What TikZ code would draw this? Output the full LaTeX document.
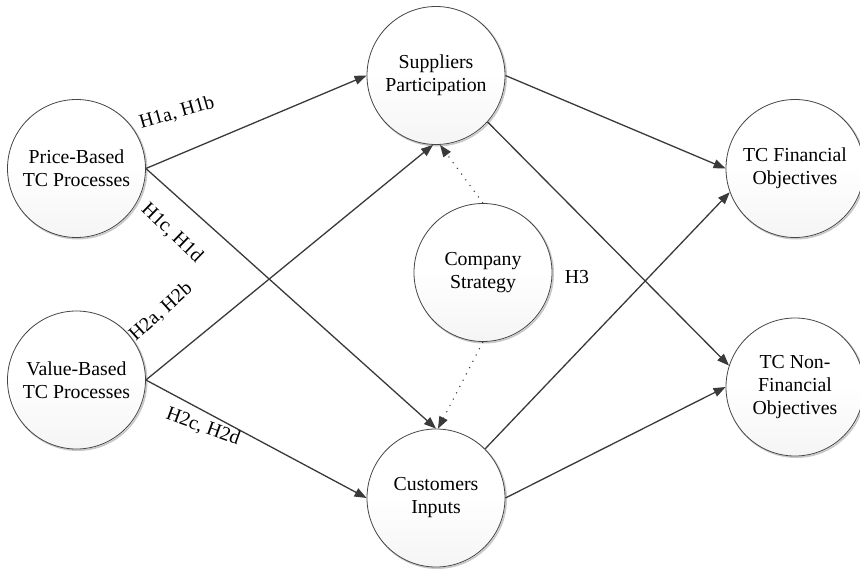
\documentclass[tikz,border=0pt]{standalone}
\usepackage{fontspec}
\setmainfont{Liberation Serif}
\usetikzlibrary{arrows.meta}
\definecolor{lineC}{HTML}{3A3A3A}
\definecolor{edgeC}{HTML}{454545}
\definecolor{shadowC}{HTML}{C8C8C8}
\tikzset{
  bubble/.style={circle, minimum size=138pt, inner sep=0pt, draw=edgeC, line width=0.8pt,
    fill=white, align=center,
    font=\fontsize{19.8}{23}\selectfont,
    path picture={
      \foreach \i in {10,...,19}{
        \pgfmathsetmacro\g{(\i-9)*0.4}
        \fill[black!\g] ([yshift=-\i*7pt]path picture bounding box.north west)
          rectangle ([yshift=-\i*7pt-7.6pt]path picture bounding box.north east);
      }
    },
    preaction={draw=shadowC, line width=1.6pt, transform canvas={shift={(1.2pt,-1.2pt)}}}},
  conn/.style={draw=lineC, line width=1.3pt, -{Triangle[length=12pt,width=9pt]}},
  dotconn/.style={draw=lineC, line width=1.1pt, dash pattern=on 1.1pt off 6pt,
    -{Triangle[length=12pt,width=9pt]}},
  hyp/.style={font=\fontsize{19.8}{23}\selectfont, inner sep=0pt}
}
\begin{document}
\begin{tikzpicture}[x=1pt,y=-1pt]
\useasboundingbox (0,0) rectangle (860,568);
\fill[white] (0,0) rectangle (860,568);
% circles
\node[bubble] (PB) at (76.5,168.5) {Price-Based\\TC Processes};
\node[bubble] (VB) at (76.5,380) {Value-Based\\TC Processes};
\node[bubble] (SP) at (436,75.5) {Suppliers\\Participation};
\node[bubble] (CS) at (483,272.5) {Company\\Strategy};
\node[bubble] (CI) at (436,498) {Customers\\Inputs};
\node[bubble] (TCF) at (795,168.5) {TC Financial\\Objectives};
\node[bubble] (TCN) at (795,387) {TC Non-\\Financial\\Objectives};
% connectors
\draw[conn] (PB.east) -- (SP.west);
\draw[conn] (PB.east) -- (CI.north);
\draw[conn] (VB.east) -- ([xshift=-3pt]SP.south);
\draw[conn] (VB.east) -- (CI.west);
\draw[dotconn] (CS.north) -- ([xshift=4pt]SP.south);
\draw[dotconn] (CS.south) -- ([xshift=2pt]CI.north);
\draw[conn] (SP.east) -- (TCF.west);
\draw[conn] (SP.-42) -- (TCN.162);
\draw[conn] (CI.45) -- (TCF.-160);
\draw[conn] (CI.east) -- (TCN.west);
% labels
\node[hyp, rotate=16] (L1) at (177,113) {H1a, H1b};
\node[hyp, rotate=-44] (L2) at (172,233) {H1c, H1d};
\node[hyp, rotate=42] (L3) at (161,312) {H2a, H2b};
\node[hyp, rotate=-20] (L4) at (203,427) {H2c, H2d};
\node[hyp] (L5) at (577,277) {H3};
\end{tikzpicture}
\end{document}
